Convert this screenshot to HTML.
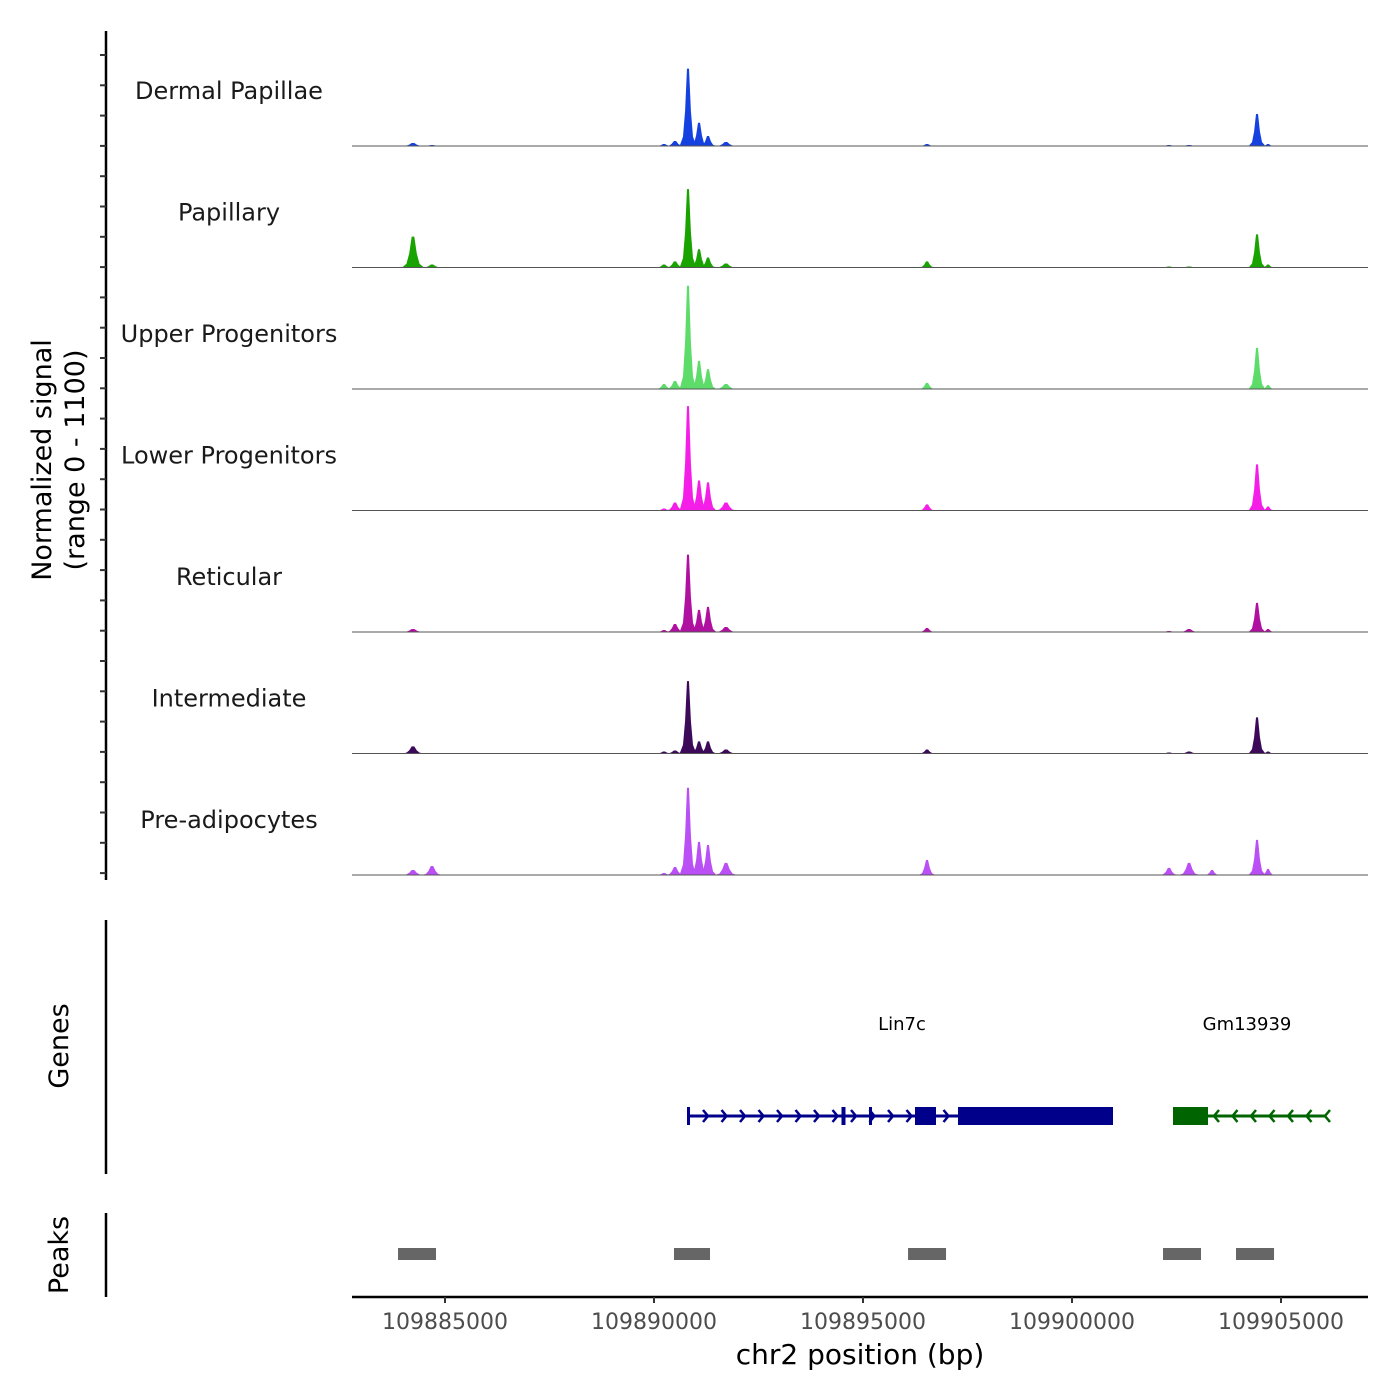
<!DOCTYPE html>
<html><head><meta charset="utf-8"><style>
body{margin:0;background:#fff}
svg{display:block;font-family:"DejaVu Sans","Liberation Sans",sans-serif}
</style></head><body>
<svg id="chart" width="1400" height="1400" viewBox="0 0 1400 1400" xmlns="http://www.w3.org/2000/svg">
<rect width="1400" height="1400" fill="#fff"/>
<g id="tracks"></g>
<g id="genes"></g>
<g id="peaks"></g>
<g id="axes"></g>
</svg>
<script>
const trackNames = ["Dermal Papillae","Papillary","Upper Progenitors","Lower Progenitors","Reticular","Intermediate","Pre-adipocytes"];
const trackColors = ["#1541e0","#18a300","#5ddc6a","#f51ee8","#b0109f","#3d0a5a","#b94ff5"];
const peakPos = [109884234,109884689,109890239,109890502,109890813,109891077,109891292,109891722,109896531,109902320,109902800,109903350,109904426,109904690];
const peakWidth = [260,240,200,220,200,200,200,260,200,220,240,180,200,160];
const sigDermal = [27,9,18,45,700,210,90,36,18,9,9,0,290,18];
const sigPapillary = [280,27,27,55,710,165,90,36,55,9,9,0,300,27];
const sigUpper = [0,0,45,72,935,255,180,45,55,0,0,0,372,36];
const sigLower = [0,0,18,72,945,272,255,72,55,0,0,0,418,36];
const sigReticular = [27,0,18,72,700,200,227,45,36,9,27,0,264,27];
const sigIntermediate = [64,0,18,27,655,110,110,36,36,9,18,0,327,18];
const sigPreadipocytes = [45,82,18,72,790,300,272,110,136,64,110,45,318,55];
const signals = [sigDermal,sigPapillary,sigUpper,sigLower,sigReticular,sigIntermediate,sigPreadipocytes];
const xTicks = [109885000,109890000,109895000,109900000,109905000];
const genePeaks = [[109883876,109884785],[109890478,109891340],[109896077,109896986],[109902177,109903086],[109903923,109904833]];

const NS="http://www.w3.org/2000/svg";
const X0=352,X1=1368,bp0=109882775,bp1=109907081;
const xs=b=>X0+(b-bp0)/(bp1-bp0)*(X1-X0);
const trackH=121.5, base0=146;
const ys=(v,i)=>base0+i*trackH - v/1100*trackH;
function mk(tag,attrs,parent,text){const e=document.createElementNS(NS,tag);for(const k in attrs)e.setAttribute(k,attrs[k]);if(text!==undefined)e.textContent=text;parent.appendChild(e);return e;}
const gT=document.getElementById('tracks');
signals.forEach((s,i)=>{
  const base=ys(0,i);
  const g=mk('g',{},gT);
  
  
  s.forEach((v,j)=>{
    if(v<=0)return;
    const x=xs(peakPos[j]),w=peakWidth[j]*(X1-X0)/(bp1-bp0),top=ys(v,i),h=base-top;
    const p=mk('path',{d:`M${x-w},${base} L${x-w*0.6},${base-h*0.12} L${x-w*0.35},${base-h*0.45} L${x-w*0.12},${top} L${x+w*0.12},${top} L${x+w*0.35},${base-h*0.45} L${x+w*0.6},${base-h*0.12} L${x+w},${base} Z`,fill:trackColors[i]},g);
    
    
  });
  const l=mk('line',{x1:X0,x2:X1,y1:base,y2:base,stroke:'#555','stroke-width':1},g);
  
  
  const t=mk('text',{x:229,y:base-47,'font-size':'24','text-anchor':'middle',fill:'#1a1a1a'},g,trackNames[i]);
  
  
});
const gA=document.getElementById('axes');
mk('line',{x1:106,x2:106,y1:31,y2:880,stroke:'#000','stroke-width':2.5},gA);
for(let y=55;y<=880;y+=30.3)mk('line',{x1:100,x2:106,y1:y,y2:y,stroke:'#333','stroke-width':2},gA);
let yt=mk('text',{transform:'translate(51,460) rotate(-90)','font-size':'27','text-anchor':'middle'},gA,'Normalized signal');

let yt2=mk('text',{transform:'translate(84,460) rotate(-90)','font-size':'27','text-anchor':'middle'},gA,'(range 0 - 1100)');

mk('line',{x1:106,x2:106,y1:920,y2:1174,stroke:'#000','stroke-width':2.5},gA);
let gt=mk('text',{transform:'translate(68,1046) rotate(-90)','font-size':'27','text-anchor':'middle'},gA,'Genes');

mk('line',{x1:106,x2:106,y1:1213,y2:1297,stroke:'#000','stroke-width':2.5},gA);
let pt=mk('text',{transform:'translate(68,1255) rotate(-90)','font-size':'27','text-anchor':'middle'},gA,'Peaks');

mk('line',{x1:X0,x2:X1,y1:1297,y2:1297,stroke:'#000','stroke-width':2.5},gA);
xTicks.forEach(b=>{
  const x=xs(b);
  mk('line',{x1:x,x2:x,y1:1297,y2:1303,stroke:'#333','stroke-width':2},gA);
  const t=mk('text',{x:x,y:1329,'font-size':'22','text-anchor':'middle',fill:'#4d4d4d'},gA,String(b));
  
});
let xt=mk('text',{x:860,y:1364,'font-size':'28','text-anchor':'middle'},gA,'chr2 position (bp)');

// genes
const gG=document.getElementById('genes');
const blue='#00008b',green='#006400';
mk('line',{x1:688,x2:1113,y1:1116,y2:1116,stroke:blue,'stroke-width':3},gG);
[[688,2],[843,3],[870,2]].forEach(([x,w])=>mk('rect',{x:x-w/2,y:1107,width:w+1,height:18,fill:blue},gG));
mk('rect',{x:915,y:1107,width:21,height:18,fill:blue},gG);
mk('rect',{x:958,y:1107,width:155,height:18,fill:blue},gG);
for(let x=703;x<958;x+=18.5){if(x>912&&x<938)continue;mk('path',{d:`M${x},${1110} L${x+5},1116 L${x},1122`,stroke:blue,'stroke-width':2.5,fill:'none'},gG);}
mk('line',{x1:1173,x2:1326,y1:1116,y2:1116,stroke:green,'stroke-width':3},gG);
mk('rect',{x:1173,y:1107,width:35,height:18,fill:green},gG);
for(let x=1214;x<1330;x+=18.5)mk('path',{d:`M${x+5},1110 L${x},1116 L${x+5},1122`,stroke:green,'stroke-width':2.5,fill:'none'},gG);
let l1=mk('text',{x:902,y:1030,'font-size':'18','text-anchor':'middle'},gG,'Lin7c');

let l2=mk('text',{x:1247,y:1030,'font-size':'18','text-anchor':'middle'},gG,'Gm13939');

const gP=document.getElementById('peaks');
genePeaks.forEach(([a,b])=>{
  const r=mk('rect',{x:xs(a),y:1248,width:xs(b)-xs(a),height:12,fill:'#666'},gP);
  
  
});
</script>
</body></html>
